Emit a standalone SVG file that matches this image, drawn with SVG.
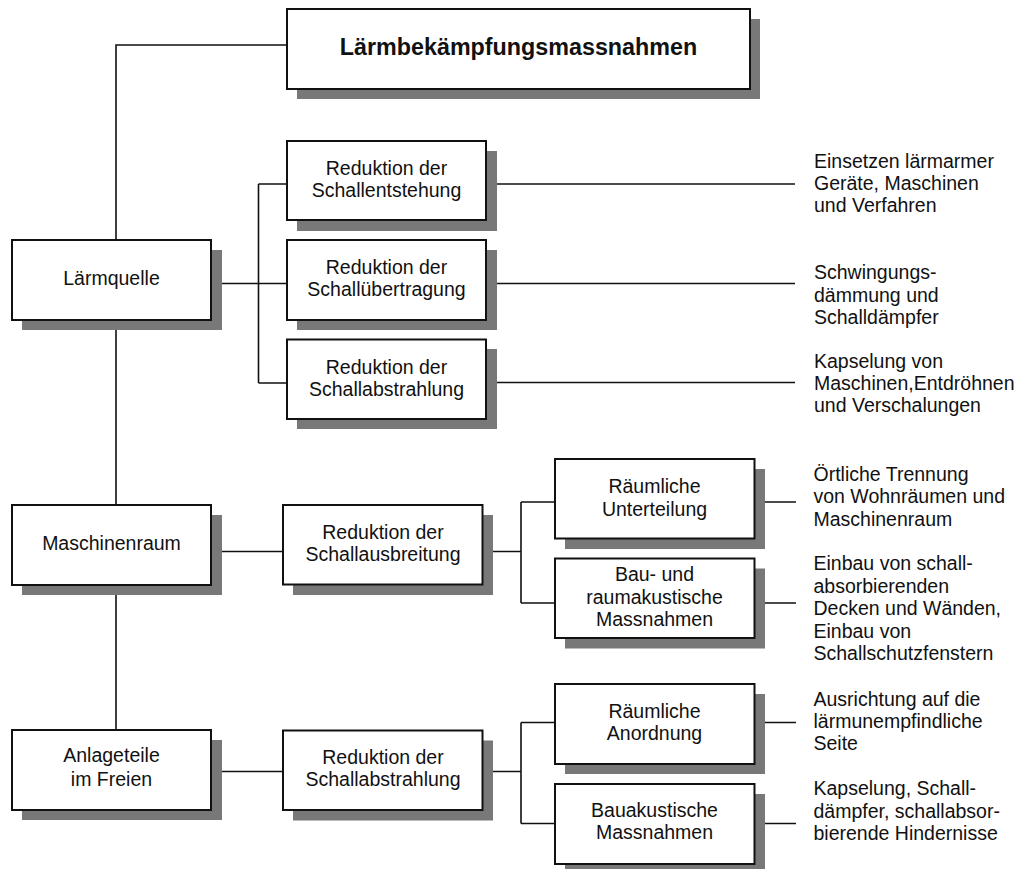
<svg xmlns="http://www.w3.org/2000/svg" width="1019" height="869" viewBox="0 0 1019 869">
<style>
.sh{fill:#787878}
.bx{fill:#fff;stroke:#111;stroke-width:2}
.ln{fill:none;stroke:#111;stroke-width:1.6}
text{font-family:"Liberation Sans",Arial,sans-serif;font-size:19.5px;fill:#111}
.c{text-anchor:middle}
.t{font-weight:bold;font-size:23.3px}
</style>
<rect width="1019" height="869" fill="#fff"/>
<g id="connectors" class="ln">
<path d="M116,240V45H287"/>
<path d="M116,330V505"/>
<path d="M116,595V730"/>
<path d="M222,283.5H287M258.5,184V383M258.5,184H287M258.5,383H287"/>
<path d="M497,184H795M497,283.5H795M497,382.5H795"/>
<path d="M222,551.5H283M493,551.5H521M521,502V603M521,502H555M521,603H555"/>
<path d="M222,771.5H283M493,771.5H521M521,722.5V823.5M521,722.5H555M521,823.5H555"/>
<path d="M765,502H796M765,603H796M765,722.5H796M765,823.5H796"/>
</g>
<g id="n-title">
<rect class="sh" x="297" y="19" width="463" height="80"/>
<rect class="bx" x="287" y="9" width="463" height="80"/>
<text class="c t" x="518.5" y="55">Lärmbekämpfungsmassnahmen</text>
</g>
<g id="n-laermquelle">
<rect class="sh" x="22" y="250" width="200" height="80"/>
<rect class="bx" x="12" y="240" width="199" height="80"/>
<text class="c" x="111.5" y="285">Lärmquelle</text>
</g>
<g id="n-maschinenraum">
<rect class="sh" x="22" y="515" width="200" height="80"/>
<rect class="bx" x="12" y="505" width="199" height="80"/>
<text class="c" x="111.5" y="550">Maschinenraum</text>
</g>
<g id="n-anlageteile">
<rect class="sh" x="22" y="740" width="200" height="80"/>
<rect class="bx" x="12" y="730" width="199" height="80"/>
<text class="c" x="111.5" y="761.5">Anlageteile</text>
<text class="c" x="111.5" y="786">im Freien</text>
</g>
<g id="n-entstehung">
<rect class="sh" x="297" y="151" width="200" height="80"/>
<rect class="bx" x="287" y="141" width="199" height="79"/>
<text class="c" x="386.5" y="174.5">Reduktion der</text>
<text class="c" x="386.5" y="196.5">Schallentstehung</text>
</g>
<g id="n-uebertragung">
<rect class="sh" x="297" y="250" width="200" height="80"/>
<rect class="bx" x="287" y="240" width="199" height="80"/>
<text class="c" x="386.5" y="274">Reduktion der</text>
<text class="c" x="386.5" y="296">Schallübertragung</text>
</g>
<g id="n-abstrahlung1">
<rect class="sh" x="297" y="349" width="200" height="80"/>
<rect class="bx" x="287" y="339.5" width="199" height="79.5"/>
<text class="c" x="386.5" y="374">Reduktion der</text>
<text class="c" x="386.5" y="395.5">Schallabstrahlung</text>
</g>
<g id="n-ausbreitung">
<rect class="sh" x="293" y="515" width="200" height="80"/>
<rect class="bx" x="283" y="505" width="199.5" height="79.5"/>
<text class="c" x="383" y="539">Reduktion der</text>
<text class="c" x="383" y="561">Schallausbreitung</text>
</g>
<g id="n-abstrahlung2">
<rect class="sh" x="293" y="740.5" width="200" height="80"/>
<rect class="bx" x="283" y="730.5" width="199.5" height="79.5"/>
<text class="c" x="383" y="763.5">Reduktion der</text>
<text class="c" x="383" y="786">Schallabstrahlung</text>
</g>
<g id="n-unterteilung">
<rect class="sh" x="565" y="469" width="200" height="80"/>
<rect class="bx" x="555" y="459" width="199.5" height="79.5"/>
<text class="c" x="654.5" y="492.5">Räumliche</text>
<text class="c" x="654.5" y="515.5">Unterteilung</text>
</g>
<g id="n-raumakustisch">
<rect class="sh" x="565" y="568.5" width="200" height="80"/>
<rect class="bx" x="555" y="558.5" width="199.5" height="79.5"/>
<text class="c" x="654.5" y="581">Bau- und</text>
<text class="c" x="654.5" y="604">raumakustische</text>
<text class="c" x="654.5" y="626">Massnahmen</text>
</g>
<g id="n-anordnung">
<rect class="sh" x="565" y="694" width="200" height="80"/>
<rect class="bx" x="555" y="684" width="199.5" height="80"/>
<text class="c" x="654.5" y="717.5">Räumliche</text>
<text class="c" x="654.5" y="740">Anordnung</text>
</g>
<g id="n-bauakustisch">
<rect class="sh" x="565" y="794" width="200" height="80"/>
<rect class="bx" x="555" y="784" width="199.5" height="80"/>
<text class="c" x="654.5" y="816.5">Bauakustische</text>
<text class="c" x="654.5" y="838.5">Massnahmen</text>
</g>
<g id="notes">
<text x="814" y="167.5">Einsetzen lärmarmer</text>
<text x="814" y="190">Geräte, Maschinen</text>
<text x="814" y="212">und Verfahren</text>
<text x="814" y="278.5">Schwingungs-</text>
<text x="814" y="301.5">dämmung und</text>
<text x="814" y="323.5">Schalldämpfer</text>
<text x="814" y="367.5">Kapselung von</text>
<text x="814" y="390">Maschinen,Entdröhnen</text>
<text x="814" y="412">und Verschalungen</text>
<text x="813.5" y="480.5">Örtliche Trennung</text>
<text x="813.5" y="503">von Wohnräumen und</text>
<text x="813.5" y="525.5">Maschinenraum</text>
<text x="813.5" y="570">Einbau von schall-</text>
<text x="813.5" y="592.5">absorbierenden</text>
<text x="813.5" y="615">Decken und Wänden,</text>
<text x="813.5" y="638">Einbau von</text>
<text x="813.5" y="660">Schallschutzfenstern</text>
<text x="813.5" y="705.5">Ausrichtung auf die</text>
<text x="813.5" y="727.5">lärmunempfindliche</text>
<text x="813.5" y="750">Seite</text>
<text x="813.5" y="795">Kapselung, Schall-</text>
<text x="813.5" y="817.5">dämpfer, schallabsor-</text>
<text x="813.5" y="839.5">bierende Hindernisse</text>
</g>
</svg>
